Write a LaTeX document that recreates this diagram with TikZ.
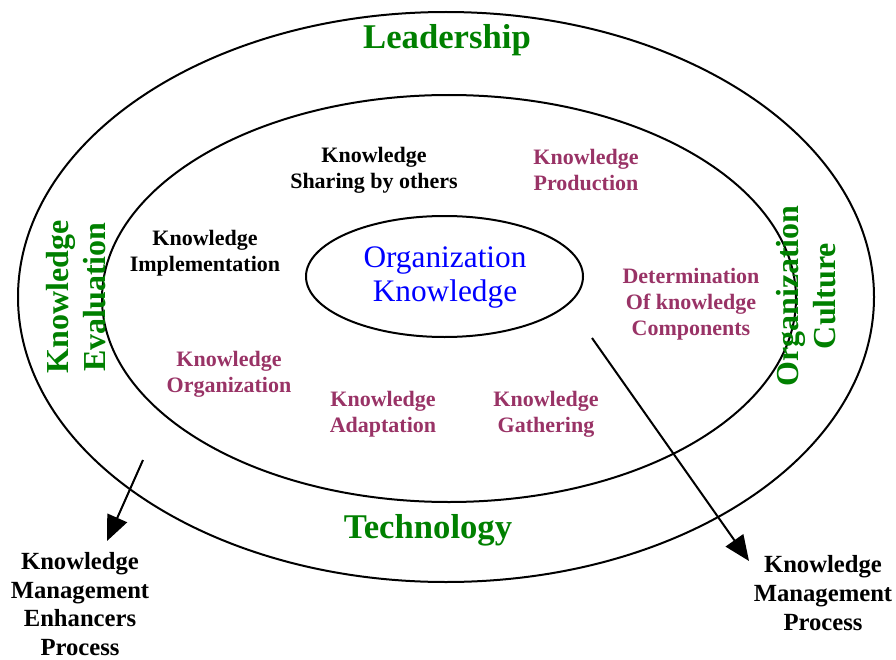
\documentclass[tikz,border=0pt]{standalone}
\usepackage{fontspec}
\setmainfont{Liberation Serif}
\usetikzlibrary{arrows.meta}
\definecolor{kmgreen}{RGB}{0,128,0}
\definecolor{kmpurple}{RGB}{153,51,102}
\definecolor{kmblue}{RGB}{0,0,255}

\begin{document}
\begin{tikzpicture}[x=0.75pt,y=-0.75pt,
    ring/.style={line width=1.5pt},
    lbl/.style={align=center,inner sep=0pt,font=\fontsize{16.5}{19.5}\selectfont\bfseries},
    outlbl/.style={align=center,inner sep=0pt,font=\fontsize{18.5}{21.5}\selectfont\bfseries},
    band/.style={text=kmgreen,inner sep=0pt,font=\fontsize{26}{30}\selectfont\bfseries},
    side/.style={align=center,text=kmgreen,inner sep=0pt,rotate=90,font=\fontsize{24}{27.5}\selectfont\bfseries},
    flow/.style={line width=1.5pt,-{Triangle[length=19pt,width=16pt]}}]

    \useasboundingbox (0,0) rectangle (896,660);

    % rings
    \draw[ring] (446,297) ellipse [x radius=428, y radius=285];
    \draw[ring] (449,298.5) ellipse [x radius=347, y radius=203.5];
    \draw[ring] (444.5,276.5) ellipse [x radius=138.5, y radius=60.5];

    \node[band] (lead) at (447,40) {Leadership};
    \node[band] (tech) at (428,530) {Technology};
    \node[side] (eval) at (76,297) {Knowledge\\Evaluation};
    \node[side] (cult) at (806,296) {Organization\\Culture};

    \node[align=center,text=kmblue,font=\fontsize{23.5}{25.5}\selectfont] (orgk) at (445,278) {Organization\\Knowledge};

    \node[lbl] (share) at (374,170) {Knowledge\\Sharing by others};
    \node[lbl,text=kmpurple] (prod) at (586,170) {Knowledge\\Production};
    \node[lbl] (impl) at (205,253) {Knowledge\\Implementation};
    \node[lbl,text=kmpurple] (detm) at (691,304) {Determination\\Of knowledge\\Components};
    \node[lbl,text=kmpurple] (orgn) at (229,374) {Knowledge\\Organization};
    \node[lbl,text=kmpurple] (adapt) at (383,414) {Knowledge\\Adaptation};
    \node[lbl,text=kmpurple] (gath) at (546,414) {Knowledge\\Gathering};

    \node[outlbl] (kmep) at (80,604) {Knowledge\\Management\\Enhancers\\Process};
    \node[outlbl] (kmp) at (823,593) {Knowledge\\Management\\Process};

    \coordinate (ls) at (143,460);
    \coordinate (lt) at (107,541);
    \coordinate (rs) at (592,338);
    \coordinate (rt) at (749,561);
    \draw[flow] (ls) -- (lt);
    \draw[flow] (rs) -- (rt);

\end{tikzpicture}
\end{document}
